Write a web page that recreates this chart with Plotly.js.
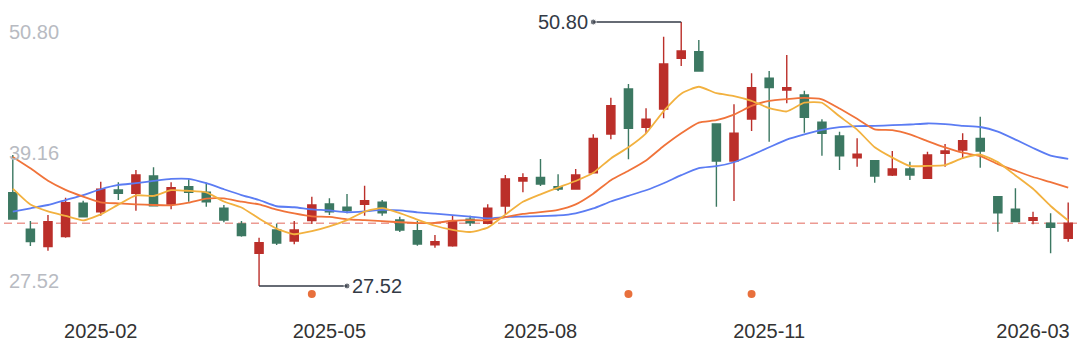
<!DOCTYPE html>
<html>
<head>
<meta charset="utf-8">
<script src="https://cdn.plot.ly/plotly-3.0.1.min.js"></script>
<style>
html,body{margin:0;padding:0;background:#fff;}
#chart{width:1080px;height:356px;}
</style>
</head>
<body>
<div id="chart"></div>
<script>
const dates = ['2025-01-03','2025-01-10','2025-01-17','2025-01-24','2025-01-27','2025-02-07','2025-02-14','2025-02-21','2025-02-28','2025-03-07',
'2025-03-14','2025-03-21','2025-03-28','2025-04-03','2025-04-11','2025-04-18','2025-04-25','2025-04-30','2025-05-09','2025-05-16',
'2025-05-23','2025-05-30','2025-06-06','2025-06-13','2025-06-20','2025-06-27','2025-07-04','2025-07-11','2025-07-18','2025-07-25',
'2025-08-01','2025-08-08','2025-08-15','2025-08-22','2025-08-29','2025-09-05','2025-09-12','2025-09-19','2025-09-26','2025-10-10',
'2025-10-17','2025-10-24','2025-10-31','2025-11-07','2025-11-14','2025-11-21','2025-11-28','2025-12-05','2025-12-12','2025-12-19',
'2025-12-26','2026-01-09','2026-01-16','2026-01-23','2026-01-30','2026-02-06','2026-02-13','2026-02-27','2026-03-06','2026-03-13',
'2026-03-20'];

const open = [35.75,32.52,30.99,31.87,34.81,34.07,35.99,35.69,37.22,34.75,
36.28,35.78,34.37,32.99,30.40,32.46,31.49,33.28,34.75,34.46,
34.72,34.90,33.34,32.40,31.14,31.07,33.40,33.05,34.57,36.78,
37.10,36.28,36.07,37.51,40.92,44.89,41.51,43.13,47.60,48.18,
41.81,38.54,42.25,45.84,44.80,44.36,41.96,40.75,38.83,38.57,
37.31,37.84,37.02,39.22,39.51,40.54,35.39,34.28,33.31,33.05,
31.73];
const high = [39.07,33.25,33.78,35.31,35.04,36.72,36.66,37.75,37.99,36.66,
36.93,36.63,34.66,33.25,31.78,33.03,33.25,35.39,35.25,35.63,
36.36,35.10,33.63,33.25,32.02,33.72,33.72,34.72,37.31,37.46,
38.72,37.37,37.84,40.90,44.12,45.33,43.19,49.50,50.80,49.21,
41.87,43.54,46.28,46.48,47.89,44.74,42.22,41.13,40.54,38.63,
39.42,38.48,39.36,40.04,40.99,42.45,35.46,36.13,34.07,33.93,
34.87];
const low = [33.43,31.05,30.63,31.78,33.60,33.72,35.10,34.16,34.60,34.28,
34.95,34.51,33.14,31.87,27.52,31.14,31.20,32.99,33.78,33.93,
33.72,33.72,32.28,31.07,30.90,30.98,32.81,32.96,33.84,35.78,
36.34,35.90,36.07,37.48,40.46,38.69,40.99,42.31,46.92,46.48,
34.51,35.02,41.19,40.24,43.63,41.04,39.01,37.75,38.04,36.63,
37.22,36.87,37.02,38.04,38.72,37.95,32.31,33.19,32.96,30.40,
31.43];
const close = [33.43,31.43,33.19,34.87,33.63,36.05,35.69,37.31,34.60,36.19,
35.78,34.95,33.34,31.96,31.34,31.31,32.46,34.66,34.07,34.16,
35.04,33.98,32.46,31.22,31.43,33.19,33.10,34.37,36.96,37.07,
36.51,36.07,37.31,40.54,43.42,41.43,42.22,47.10,48.24,46.48,
38.54,40.99,45.01,45.01,45.01,42.40,40.99,39.01,39.13,37.22,
37.84,37.31,39.07,39.42,40.33,39.42,33.98,33.19,33.54,32.70,
33.05];

const ma5 = [36.10,34.70,34.10,33.70,33.31,33.83,34.69,35.51,35.46,35.97,
35.91,35.77,34.97,34.44,33.47,32.58,32.08,32.35,32.77,33.33,
34.08,34.38,33.94,33.37,32.83,32.46,32.28,32.66,33.81,34.94,
35.60,36.20,36.78,37.50,38.77,39.75,40.98,42.94,44.48,45.09,
44.52,44.27,43.85,43.21,42.91,43.68,43.68,42.48,41.31,39.75,
38.84,38.10,38.11,38.17,38.79,39.11,38.44,37.27,36.09,34.57,
33.29];
const ma10 = [38.90,37.90,36.80,36.00,35.40,34.90,34.80,34.72,34.66,34.64,
34.87,35.23,35.24,34.95,34.72,34.25,33.92,33.66,33.61,33.40,
33.33,33.23,33.14,33.07,33.08,33.27,33.33,33.30,33.59,33.88,
34.03,34.24,34.72,35.66,36.85,37.68,38.59,39.86,40.99,41.93,
42.14,42.63,43.40,43.84,44.00,44.10,43.98,43.17,42.26,41.33,
41.26,40.89,40.30,39.74,39.27,38.97,38.27,37.69,37.13,36.68,
36.20];
const ma20 = [34.07,34.37,34.66,35.10,35.54,36.05,36.43,36.58,36.78,36.96,
36.96,36.58,36.05,35.54,35.10,34.55,34.46,34.28,34.18,34.02,
34.10,34.23,34.19,34.01,33.90,33.76,33.63,33.48,33.60,33.64,
33.68,33.74,33.93,34.36,34.97,35.47,35.96,36.58,37.29,37.91,
38.08,38.43,39.06,39.75,40.43,40.89,41.28,41.52,41.62,41.63,
41.70,41.76,41.85,41.79,41.64,41.54,41.13,40.43,39.69,39.01,
38.73];

const tickDates = ['2025-02-07','2025-05-09','2025-08-01','2025-11-07','2026-03-06'];
const tickLabels = ['2025-02','2025-05','2025-08','2025-11','2026-03'];
const signalDates = ['2025-04-30','2025-09-05','2025-10-31'];

const UP = '#bb2f2a', DOWN = '#3c7862';
const FONT = 'Liberation Sans, Arial, sans-serif';

const maxHigh = Math.max(...high), minLow = Math.min(...low);
const maxIdx = high.indexOf(maxHigh), minIdx = low.indexOf(minLow);
const midVal = (maxHigh + minLow) / 2;
const lastClose = close[close.length - 1];

function maLine(y, color) {
  return {type:'scatter', mode:'lines', x:dates, y:y, hoverinfo:'skip',
    line:{color:color, width:1.8, shape:'spline', smoothing:0.5}};
}

const traces = [
  maLine(ma20, '#5b7cf3'),
  maLine(ma10, '#f0733a'),
  maLine(ma5, '#f2b13f'),
  {type:'candlestick', x:dates, open:open, high:high, low:low, close:close,
   increasing:{line:{color:UP, width:1.4}, fillcolor:UP},
   decreasing:{line:{color:DOWN, width:1.4}, fillcolor:DOWN},
   whiskerwidth:0, hoverinfo:'skip'},
  {type:'scatter', mode:'lines+markers', x:[dates[maxIdx], dates[maxIdx-5]], y:[maxHigh, maxHigh],
   line:{color:'#333a46', width:1.5}, marker:{size:[0,6], color:'#333a46'}, hoverinfo:'skip'},
  {type:'scatter', mode:'lines+markers', x:[dates[minIdx], dates[minIdx+5]], y:[minLow, minLow],
   line:{color:'#333a46', width:1.5}, marker:{size:[0,6], color:'#333a46'}, hoverinfo:'skip'},
  {type:'scatter', mode:'markers', x:signalDates, y:signalDates.map(()=>minLow-0.71),
   marker:{size:8, color:'#e8703c'}, hoverinfo:'skip'}
];

const labelFont = {family:FONT, size:20, color:'#b8bbc2'};
const layout = {
  width:1080, height:356,
  margin:{l:4, r:3, t:0, b:46},
  paper_bgcolor:'#fff', plot_bgcolor:'#fff',
  showlegend:false, hovermode:false,
  boxgap:0.34,
  xaxis:{type:'category', range:[-0.5, dates.length-0.5], rangeslider:{visible:false},
    showgrid:false, zeroline:false, showline:false,
    tickmode:'array', tickvals:tickDates, ticktext:tickLabels,
    ticks:'outside', ticklen:3, tickcolor:'rgba(0,0,0,0)',
    tickfont:{family:FONT, size:20, color:'#333333'}},
  yaxis:{range:[25.40, 52.74], showgrid:false, zeroline:false, showticklabels:false, showline:false},
  shapes:[{type:'line', xref:'paper', x0:0, x1:1, yref:'y', y0:lastClose, y1:lastClose,
    line:{color:'#ec9a92', width:1.5, dash:'8px,5px'}, layer:'below'}],
  annotations:[
    {xref:'paper', x:0, xanchor:'left', xshift:3, yref:'y', y:maxHigh, yanchor:'top', yshift:3,
     text:maxHigh.toFixed(2), showarrow:false, font:labelFont},
    {xref:'paper', x:0, xanchor:'left', xshift:3, yref:'y', y:midVal, yanchor:'middle', yshift:1,
     text:midVal.toFixed(2), showarrow:false, font:labelFont},
    {xref:'paper', x:0, xanchor:'left', xshift:3, yref:'y', y:minLow, yanchor:'bottom', yshift:-8,
     text:minLow.toFixed(2), showarrow:false, font:labelFont},
    {xref:'x', x:maxIdx-5, xanchor:'right', xshift:-3, yref:'y', y:maxHigh, yanchor:'middle',
     text:maxHigh.toFixed(2), showarrow:false, font:{family:FONT, size:20, color:'#333a46'}},
    {xref:'x', x:minIdx+5, xanchor:'left', xshift:3, yref:'y', y:minLow, yanchor:'middle',
     text:minLow.toFixed(2), showarrow:false, font:{family:FONT, size:20, color:'#333a46'}}
  ]
};

Plotly.newPlot('chart', traces, layout, {displayModeBar:false, staticPlot:true});
</script>
</body>
</html>
